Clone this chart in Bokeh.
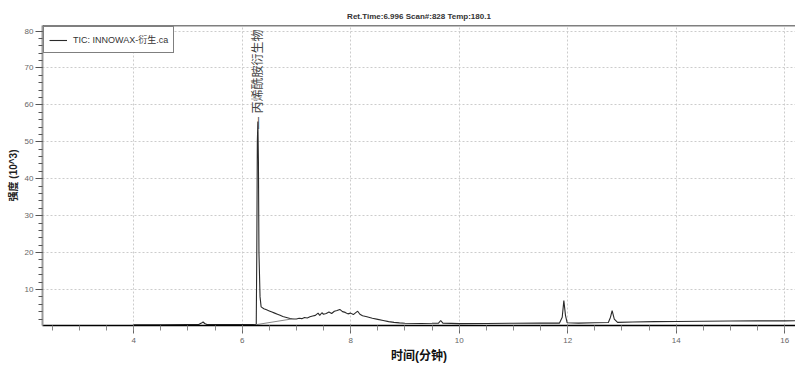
import math
from bokeh.plotting import figure
from bokeh.models import FixedTicker, Span, Range1d, Legend, LegendItem
from bokeh.core.properties import value
from bokeh.embed import file_html
from bokeh.resources import INLINE

# ---- data ----
time_min = [4.00, 4.50, 5.00, 5.20, 5.25, 5.28, 5.31, 5.35, 5.80, 6.20, 6.26,
            6.27, 6.28, 6.29, 6.30, 6.31, 6.33, 6.35, 6.40, 6.45, 6.50, 6.55,
            6.60, 6.65, 6.70, 6.75, 6.80, 6.85, 6.90, 6.95, 7.00, 7.05, 7.10,
            7.15, 7.20, 7.25, 7.30, 7.35, 7.40, 7.43, 7.47, 7.50, 7.55, 7.60,
            7.65, 7.70, 7.75, 7.80, 7.85, 7.90, 7.95, 8.00, 8.05, 8.10, 8.13,
            8.17, 8.22, 8.30, 8.40, 8.50, 8.60, 8.70, 8.80, 8.90, 9.00, 9.30,
            9.50, 9.62, 9.66, 9.70, 10.0, 10.5, 11.0, 11.5, 11.85, 11.90, 11.93,
            11.96, 11.99, 12.2, 12.5, 12.75, 12.79, 12.82, 12.86, 12.92, 13.2,
            13.6, 14.0, 14.5, 15.0, 15.5, 16.0, 16.2]
intensity = [0.45, 0.45, 0.5, 0.5, 0.9, 1.2, 0.8, 0.5, 0.5, 0.5, 0.6,
             20.0, 50.0, 55.5, 45.0, 20.0, 8.0, 5.3, 4.8, 4.5, 4.2, 3.9,
             3.6, 3.3, 3.0, 2.7, 2.5, 2.3, 2.1, 2.0, 2.0, 2.2, 2.1,
             2.4, 2.3, 2.6, 2.8, 3.0, 3.6, 3.0, 3.7, 3.3, 3.5, 3.9,
             3.5, 4.1, 4.3, 4.6, 4.0, 3.8, 3.4, 3.6, 3.2, 3.8, 4.1,
             3.3, 2.9, 2.6, 2.2, 1.9, 1.6, 1.3, 1.1, 0.95, 0.85, 0.8,
             0.85, 0.9, 1.6, 0.9, 0.75, 0.8, 0.85, 0.9, 0.9, 2.5, 7.0,
             3.0, 1.0, 0.9, 1.0, 1.05, 2.5, 4.3, 2.0, 1.1, 1.2,
             1.3, 1.35, 1.4, 1.45, 1.5, 1.5, 1.55]

# integration baseline drawn under the main peak
base_t = [6.27, 6.95]
base_i = [0.5, 2.1]

peak_t = 6.29
peak_label_y = 53.5
peak_label = "— 丙烯酰胺衍生物"

x_major = [4, 6, 8, 10, 12, 14, 16]
y_major = [10, 20, 30, 40, 50, 60, 70, 80]
y_minor = [v for v in range(0, 82, 2)]
x_minor = [2.5 + 0.5 * k for k in range(28)]

title_text = "Ret.Time:6.996 Scan#:828 Temp:180.1"
legend_text = "TIC: INNOWAX-衍生.ca"
x_label = "时间(分钟)"
y_label = "强度 (10^3)"

FONT = "Liberation Sans, Noto Sans CJK SC, sans-serif"

p = figure(width=795, height=365, output_backend="svg", toolbar_location=None,
           x_range=Range1d(2.32, 16.2), y_range=Range1d(0.25, 81.5),
           min_border_left=42, min_border_right=0, min_border_top=25,
           min_border_bottom=40, background_fill_color="white",
           border_fill_color="white", outline_line_color=None)

p.title.text = title_text
p.title.align = "center"
p.title.text_font = FONT
p.title.text_font_size = "8px"
p.title.text_font_style = "bold"
p.title.text_color = "#333333"

r = p.line(time_min, intensity, line_color="#2a2a2a", line_width=1.1)
p.line(base_t, base_i, line_color="#888888", line_width=1)

p.text(x=[peak_t], y=[peak_label_y], text=[peak_label], angle=math.pi / 2,
       text_align="left", text_baseline="middle", text_font=value(FONT),
       text_font_size="12px", text_color="#444444")

# top border
p.add_layout(Span(location=81.5, dimension="width", line_color="black", line_width=1.5))

# axes
xa = p.xaxis[0]
xa.ticker = FixedTicker(ticks=x_major, minor_ticks=x_minor)
xa.axis_line_color = "black"
xa.axis_line_width = 1.5
xa.major_tick_line_color = "#666666"
xa.minor_tick_line_color = "#888888"
xa.major_tick_out = 8
xa.major_tick_in = 0
xa.minor_tick_out = 5
xa.minor_tick_in = 0
xa.major_label_text_font = FONT
xa.major_label_text_font_size = "8px"
xa.major_label_text_color = "#666666"
xa.major_label_standoff = 4
xa.axis_label = x_label
xa.axis_label_text_font = FONT
xa.axis_label_text_font_size = "12px"
xa.axis_label_text_font_style = "bold"
xa.axis_label_text_color = "#111111"
xa.axis_label_standoff = 3

ya = p.yaxis[0]
ya.ticker = FixedTicker(ticks=y_major, minor_ticks=y_minor)
ya.axis_line_color = "#999999"
ya.axis_line_width = 2
ya.major_tick_line_color = "#555555"
ya.minor_tick_line_color = "#555555"
ya.major_tick_out = 7
ya.major_tick_in = 0
ya.minor_tick_out = 4
ya.minor_tick_in = 0
ya.major_label_text_font = FONT
ya.major_label_text_font_size = "8px"
ya.major_label_text_color = "#666666"
ya.major_label_standoff = 2
ya.axis_label = y_label
ya.axis_label_text_font = FONT
ya.axis_label_text_font_size = "10px"
ya.axis_label_text_font_style = "bold"
ya.axis_label_text_color = "#222222"
ya.axis_label_standoff = 3

p.xgrid.ticker = FixedTicker(ticks=x_major)
p.ygrid.ticker = FixedTicker(ticks=y_major)
for g in (p.xgrid[0], p.ygrid[0]):
    g.grid_line_color = "#cccccc"
    g.grid_line_dash = "2 2"
    g.grid_line_width = 1

legend = Legend(items=[LegendItem(label=legend_text, renderers=[r])],
                location="top_left", margin=1, padding=5, spacing=0,
                label_text_font=FONT, label_text_font_size="9px",
                label_text_color="#333333", glyph_width=18, glyph_height=12,
                label_height=15, label_standoff=6,
                border_line_color="black", border_line_width=1.2,
                background_fill_alpha=1.0)
p.add_layout(legend)

open("out.html", "w").write(file_html(p, INLINE))
